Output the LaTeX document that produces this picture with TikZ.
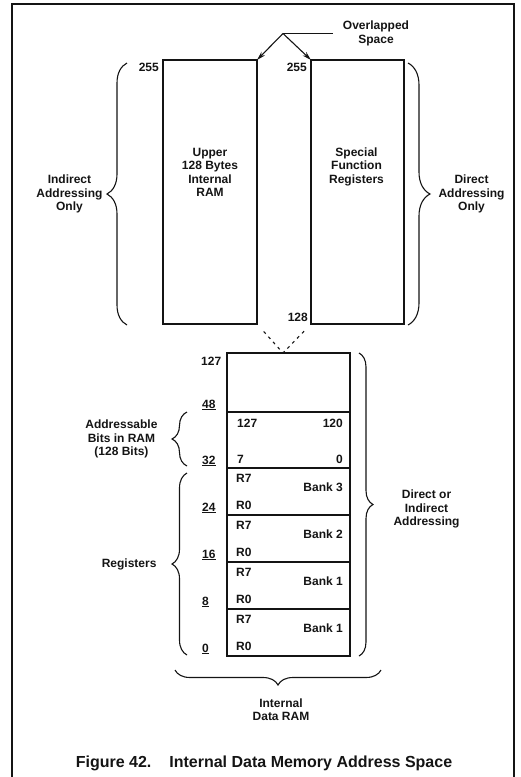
\documentclass[tikz,border=0pt]{standalone}
\usepackage{fontspec}
\setmainfont{Liberation Sans}
\usetikzlibrary{arrows.meta,positioning,calc,decorations.pathreplacing}
\definecolor{ink}{HTML}{141414}
\tikzset{
  membox/.style={draw=ink, line width=1.6pt, inner sep=0pt, outer sep=0pt, minimum width=123pt},
  bankbox/.style={membox, minimum height=47pt},
  txt/.style={font=\bfseries\fontsize{12}{13.5}\selectfont, text=ink, align=center, inner sep=1pt},
  num/.style={font=\bfseries\fontsize{12}{13.5}\selectfont, text=ink, inner sep=1pt},
  capt/.style={font=\bfseries\fontsize{16}{19}\selectfont, text=ink, inner sep=1pt},
  curly/.style={decorate, decoration={brace, amplitude=#1}, draw=ink, line width=1.1pt},
  curly/.default=15pt,
  arrow/.style={-{Stealth[length=9pt,width=5pt]}, draw=ink, line width=1.1pt},
  dotline/.style={draw=ink, line width=1.1pt, dash pattern=on 3pt off 4pt},
  pageframe/.style={draw=ink, line width=1.6pt}
}
\begin{document}
\begin{tikzpicture}[x=1pt, y=-1pt]
\useasboundingbox (0,0) rectangle (520,777);
\draw[pageframe] (12,777) -- (12,4) -- (514,4) -- (514,777);

% upper half: two spaces sharing the addresses 128-255
\node[membox, minimum width=94pt, minimum height=264pt] (uram) at (210,192) {};
\node[membox, minimum width=93pt, minimum height=264pt] (sfr) at (357.5,192) {};
\node[txt] (uramtxt) at ($(uram.north)+(0,112.5)$) {Upper\\128 Bytes\\Internal\\RAM};
\node[txt] (sfrtxt) at ($(sfr.north)+(-1,106.5)$) {Special\\Function\\Registers};
\node[num, anchor=north east] (uramtop) at ($(uram.north west)+(-3,2)$) {255};
\node[num, anchor=north east] (sfrtop) at ($(sfr.north west)+(-3,2)$) {255};
\node[num, anchor=south east] (sfrbot) at ($(sfr.south west)+(-2,-1)$) {128};

% overlapped space
\coordinate (ovl) at (283,33.5);
\node[txt] (ovlbl) at (376,33.5) {Overlapped\\Space};
\draw[ink, line width=0.8pt, shorten >=9pt] (ovl) -- (ovlbl.west);
\draw[arrow] (ovl) -- (uram.north east);
\draw[arrow] (ovl) -- (sfr.north west);

% lower 128 bytes
\node[membox, minimum height=59pt] (free) at (288.5,382.5) {};
\node[membox, minimum height=56pt, below=0pt of free] (bits) {};
\node[bankbox, below=0pt of bits] (bank3) {};
\node[bankbox, below=0pt of bank3] (bank2) {};
\node[bankbox, below=0pt of bank2] (bank1) {};
\node[bankbox, below=0pt of bank1] (bank0) {};
\draw[dotline, shorten <=10pt] (uram.south east) -- (ovl |- free.north);
\draw[dotline, shorten <=10pt] (sfr.south west) -- (ovl |- free.north);

% bit addresses
\node[num, anchor=north west] (bithi) at ($(bits.north west)+(9,6)$) {127};
\node[num, anchor=north east] (bithr) at ($(bits.north east)+(-6,6)$) {120};
\node[num, anchor=south west] (bitlo) at ($(bits.south west)+(9,-3)$) {7};
\node[num, anchor=south east] (bitlr) at ($(bits.south east)+(-6,-3)$) {0};

% register banks
\foreach \b/\t in {bank3/Bank 3, bank2/Bank 2, bank1/Bank 1, bank0/Bank 1}{
  \node[num, anchor=north west] (\b-r7) at ($(\b.north west)+(8,5)$) {R7};
  \node[num, anchor=south west] (\b-r0) at ($(\b.south west)+(8,-4)$) {R0};
  \node[num, anchor=east] (\b-name) at ($(\b.east)+(-6,-4.5)$) {\t};
}

% byte addresses
\node[num, anchor=base west] (adr127) at ($(free.north west)+(-27,12.5)$) {127};
\foreach \s/\a in {free/48, bits/32, bank3/24, bank2/16, bank1/8, bank0/0}
  \node[num, anchor=base west] (adr\a) at ($(\s.south west)+(-26,-4)$) {\underline{\a}};

% braces
\draw[curly=20pt] (127,325) -- (127,63) node[txt, midway, left=23pt] (indir) {Indirect\\Addressing\\Only};
\draw[curly=22pt] (408,63) -- (408,325) node[txt, midway, right=29pt] (dir) {Direct\\Addressing\\Only};
\draw[curly] (187,466) -- (187,412) node[txt, midway, left=28pt] (bitsl) {Addressable\\Bits in RAM\\(128 Bits)};
\draw[curly] (187,655) -- (187,473) node[txt, midway, left=29pt] (regl) {Registers};
\draw[curly=14pt] (359,353) -- (359,656) node[txt, midway, right=33pt, yshift=-4.5pt] (both) {Direct or\\Indirect\\Addressing};
\draw[curly] (381,670) -- (175,670) node[txt, midway, below=27pt, xshift=3pt] (iram) {Internal\\Data RAM};

\node[capt] (cap) at (264,763) {Figure 42.\hspace{18pt}Internal Data Memory Address Space};
\end{tikzpicture}
\end{document}
